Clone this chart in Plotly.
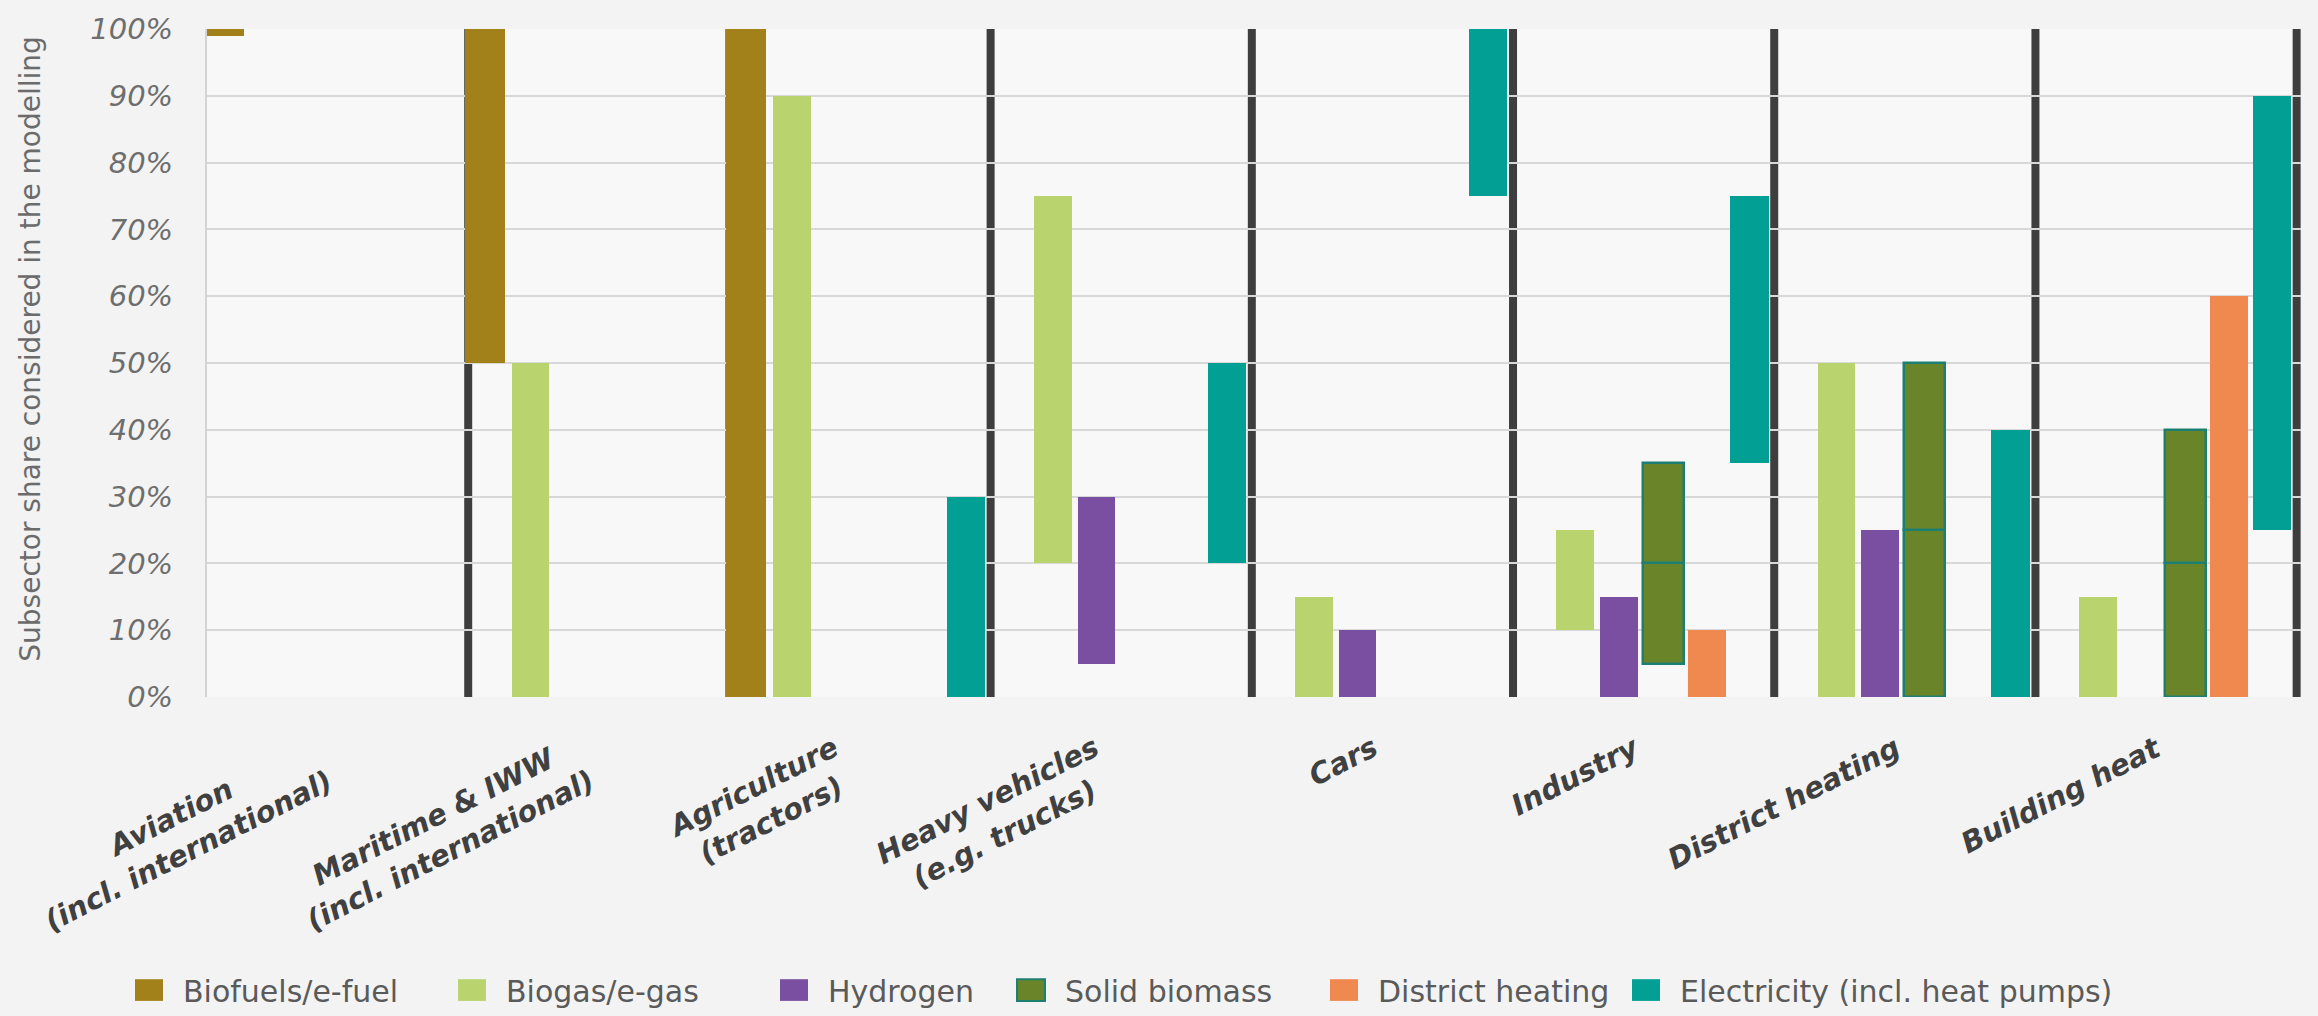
import plotly.graph_objects as go

# ---- data -------------------------------------------------------------
sectors = [
    "Aviation<br>(incl. international)",
    "Maritime & IWW<br>(incl. international)",
    "Agriculture<br>(tractors)",
    "Heavy vehicles<br>(e.g. trucks)",
    "Cars",
    "Industry",
    "District heating",
    "Building heat",
]

series_names = [
    "Biofuels/e-fuel",
    "Biogas/e-gas",
    "Hydrogen",
    "Solid biomass",
    "District heating",
    "Electricity (incl. heat pumps)",
]

# share ranges (%) per sector: lower and upper bound of each floating bar
biofuel_low = [99, 50, 0, None, None, None, None, None]
biofuel_high = [100, 100, 100, None, None, None, None, None]

biogas_low = [None, 0, 0, 20, 0, 10, 0, 0]
biogas_high = [None, 50, 90, 75, 15, 25, 50, 15]

hydrogen_low = [None, None, None, 5, 0, 0, 0, None]
hydrogen_high = [None, None, None, 30, 10, 15, 25, None]

# solid biomass is split in a lower and an upper range
solid_low = [None, None, None, None, None, 5, 0, 0]
solid_mid = [None, None, None, None, None, 20, 25, 20]
solid_high = [None, None, None, None, None, 35, 50, 40]

dh_low = [None, None, None, None, None, 0, None, 0]
dh_high = [None, None, None, None, None, 10, None, 60]

elec_low = [None, None, 0, 20, 75, 35, 0, 25]
elec_high = [None, None, 30, 50, 100, 75, 40, 90]

y_ticks = list(range(0, 101, 10))

# ---- styling ----------------------------------------------------------
COLORS = {
    "Biofuels/e-fuel": "#a3811a",
    "Biogas/e-gas": "#b9d46f",
    "Hydrogen": "#7a4fa1",
    "Solid biomass": "#6a8429",
    "District heating": "#f0894f",
    "Electricity (incl. heat pumps)": "#029f95",
}
SOLID_EDGE = "#1c7f72"
SEP_COLOR = "#3e3e3e"
FONT = "DejaVu Sans"

W, H = 2318, 1016
ML, MR, MT, MB = 207, 17, 20, 319
PW, PH = W - ML - MR, H - MT - MB
SLOTS = 6                      # slots per sector
X_MAX = len(sectors) * SLOTS + 0.1

# position of each series inside its sector (slot units) and bar width
slot_pos = [0.38, 1.43, 2.43, 3.45, 4.45, 5.43]
bar_w = [0.93, 0.87, 0.86, 0.94, 0.88, 0.88]


def px_x(px):
    return (px - ML) / PW


def px_y(py):
    return (H - MB - py) / PH


fig = go.Figure()


def add_range(name, lows, highs, k, edge=None):
    xs, bases, lens = [], [], []
    for i, (lo, hi) in enumerate(zip(lows, highs)):
        if lo is None or hi is None:
            continue
        xs.append(i * SLOTS + slot_pos[k])
        bases.append(lo)
        lens.append(hi - lo)
    fig.add_trace(go.Bar(
        name=name,
        x=xs,
        y=lens,
        base=bases,
        width=bar_w[k],
        marker=dict(
            color=COLORS[name],
            line=dict(color=edge if edge else COLORS[name], width=2.5 if edge else 0),
        ),
        showlegend=False,
        hovertemplate=name + ": %{base}–%{customdata}%<extra></extra>",
        customdata=[b + l for b, l in zip(bases, lens)],
    ))


add_range("Biofuels/e-fuel", biofuel_low, biofuel_high, 0)
add_range("Biogas/e-gas", biogas_low, biogas_high, 1)
add_range("Hydrogen", hydrogen_low, hydrogen_high, 2)
add_range("Solid biomass", solid_low, solid_mid, 3, edge=SOLID_EDGE)
add_range("Solid biomass", solid_mid, solid_high, 3, edge=SOLID_EDGE)
add_range("District heating", dh_low, dh_high, 4)
add_range("Electricity (incl. heat pumps)", elec_low, elec_high, 5)

shapes = []
# dark separators on the right edge of every sector
for i in range(1, len(sectors) + 1):
    shapes.append(dict(
        type="line", xref="x", yref="y",
        x0=i * SLOTS, x1=i * SLOTS, y0=0, y1=100,
        line=dict(color=SEP_COLOR, width=8), layer="below",
    ))

annotations = []
# rotated sector labels, right end at the sector centre
for i, lab in enumerate(sectors):
    annotations.append(dict(
        text=lab, x=i * SLOTS + SLOTS / 2 + 0.08, y=0,
        xref="x", yref="paper", xanchor="right", yanchor="top",
        yshift=-30, textangle=-27, align="center",
        showarrow=False,
        font=dict(family=FONT, size=29, color="#404040", weight="bold", style="italic"),
    ))

# y-axis title
annotations.append(dict(
    text="Subsector share considered in the modelling",
    x=px_x(31), y=px_y(344), xref="paper", yref="paper",
    xanchor="center", yanchor="middle", textangle=-90, showarrow=False,
    font=dict(family=FONT, size=28, color="#6b6b6b"),
))

# legend row
legend_left = [135, 458, 780, 1017, 1330, 1632]
for name, lx in zip(series_names, legend_left):
    is_solid = name == "Solid biomass"
    shapes.append(dict(
        type="rect", xref="paper", yref="paper",
        x0=px_x(lx), x1=px_x(lx + 28), y0=px_y(983), y1=px_y(1005),
        fillcolor=COLORS[name],
        line=dict(color=SOLID_EDGE if is_solid else COLORS[name], width=2 if is_solid else 0),
    ))
    annotations.append(dict(
        text=name, x=px_x(lx + 46), y=px_y(995), xref="paper", yref="paper",
        xanchor="left", yanchor="middle", showarrow=False,
        font=dict(family=FONT, size=30, color="#5a5a5a"),
    ))

fig.update_layout(
    width=W, height=H,
    margin=dict(l=ML, r=MR, t=MT, b=MB, pad=0),
    paper_bgcolor="#f3f3f3",
    plot_bgcolor="#f8f8f8",
    barmode="overlay",
    bargap=0,
    showlegend=False,
    shapes=shapes,
    annotations=annotations,
    xaxis=dict(
        range=[0, X_MAX], showgrid=False, zeroline=False,
        showticklabels=False, ticks="", showline=False, fixedrange=True,
    ),
    yaxis=dict(
        range=[0, 100], tickvals=y_ticks, ticktext=[f"{v}%" for v in y_ticks],
        showgrid=True, gridcolor="#d8d8d8", gridwidth=2,
        zeroline=False, showline=True, linecolor="#d3d3d3", linewidth=2,
        ticks="", ticklabelstandoff=26,
        tickfont=dict(family=FONT, size=29, color="#6e6e6e", style="italic"),
    ),
)

fig.write_html("out.html")
